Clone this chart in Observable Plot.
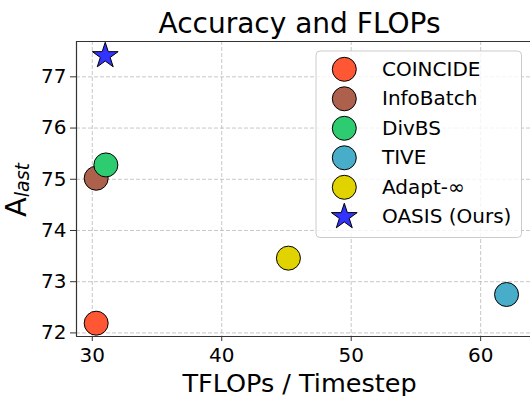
<!DOCTYPE html>
<html>
<head>
<meta charset="utf-8">
<script src="https://cdn.jsdelivr.net/npm/d3@7"></script>
<script src="https://cdn.jsdelivr.net/npm/@observablehq/plot@0.6"></script>
<style>
  html, body { margin: 0; padding: 0; background: #fff; }
  #chart { position: relative; width: 530px; height: 396px; }
</style>
</head>
<body>
<div id="chart"></div>
<script>
// ---- data ----
const methods = ["COINCIDE", "InfoBatch", "DivBS", "TIVE", "Adapt-∞", "OASIS (Ours)"];
const tflops  = [30.3, 30.3, 31.05, 62.0, 45.15, 31.0];
const accLast = [72.19, 75.02, 75.28, 72.75, 73.46, 77.41];
const colors  = ["#FF5733", "#AD614D", "#2ECC71", "#48ADC8", "#E1D300", "#3333FF"];
const symbols = ["circle", "circle", "circle", "circle", "circle", "star"];
const xTicks  = [30, 40, 50, 60];
const yTicks  = [72, 73, 74, 75, 76, 77];
const xDomain = [28.78, 63.85];
const yDomain = [71.93, 77.69];
const titleText = "Accuracy and FLOPs";
const xLabel = "TFLOPs / Timestep";

const rows = methods.map((m, i) => ({method: m, x: tflops[i], y: accLast[i], color: colors[i], symbol: symbols[i]}));
const circles = rows.filter(d => d.symbol === "circle");
const stars = rows.filter(d => d.symbol === "star");

const font = "DejaVu Sans, sans-serif";

const plot = Plot.plot({
  width: 530,
  height: 396,
  marginTop: 41,
  marginLeft: 76,
  marginRight: 0,
  marginBottom: 60,
  style: {fontFamily: font, fontSize: "20px", color: "#000", background: "#fff"},
  x: {domain: xDomain, label: null},
  y: {domain: yDomain, label: null},
  marks: [
    Plot.gridX(xTicks, {stroke: "#b0b0b0", strokeOpacity: 0.7, strokeDasharray: "4,2", strokeWidth: 1}),
    Plot.gridY(yTicks, {stroke: "#b0b0b0", strokeOpacity: 0.7, strokeDasharray: "4,2", strokeWidth: 1}),
    Plot.axisX(xTicks, {tickSize: 5, tickPadding: 6, fontSize: 20, label: null, stroke: "#333", color: "#000", tickFormat: d3.format("d")}),
    Plot.axisY(yTicks, {tickSize: 6, tickPadding: 4, fontSize: 20, label: null, stroke: "#333", color: "#000", tickFormat: d3.format("d")}),
    Plot.ruleX([xDomain[0]], {stroke: "#333", strokeWidth: 1.2}),
    Plot.ruleY(yDomain, {stroke: "#333", strokeWidth: 1.2}),
    Plot.dot(circles, {x: "x", y: "y", fill: "color", r: 12, stroke: "#000", strokeWidth: 1, symbol: "circle"}),
    Plot.dot(stars, {x: "x", y: "y", fill: "color", r: 8.1, stroke: "#000", strokeWidth: 1, symbol: "star"})
  ]
});

document.getElementById("chart").appendChild(plot);

// ---- titles, labels, legend ----
const svg = d3.select(plot);
const cx = 299.5;

svg.append("text")
  .attr("x", cx).attr("y", 32.7)
  .attr("text-anchor", "middle")
  .style("font-family", font).style("font-size", "28px").attr("fill", "#000")
  .text(titleText);

svg.append("text")
  .attr("x", cx).attr("y", 391.5)
  .attr("text-anchor", "middle")
  .style("font-family", font).style("font-size", "25.5px").attr("fill", "#000")
  .text(xLabel);

const yl = svg.append("text")
  .attr("transform", "translate(26,190) rotate(-90)")
  .attr("text-anchor", "middle")
  .style("font-family", font).attr("fill", "#000");
yl.append("tspan").style("font-size", "29px").text("A");
yl.append("tspan").style("font-size", "19px").style("font-style", "italic").attr("dy", 3).text("last");

const lg = svg.append("g");
lg.append("rect")
  .attr("x", 316).attr("y", 51).attr("width", 205.5).attr("height", 186.5)
  .attr("rx", 4).attr("fill", "#fff").attr("fill-opacity", 0.8)
  .attr("stroke", "#cccccc").attr("stroke-width", 1);
const starPath = d3.symbol(d3.symbolStar, Math.PI * 8.1 * 8.1)();
rows.forEach((d, i) => {
  const yy = 69.3 + i * 29.5;
  if (d.symbol === "star") {
    lg.append("path").attr("d", starPath).attr("transform", `translate(344.3,${yy})`)
      .attr("fill", d.color).attr("stroke", "#000").attr("stroke-width", 1);
  } else {
    lg.append("circle").attr("cx", 344.3).attr("cy", yy).attr("r", 12)
      .attr("fill", d.color).attr("stroke", "#000").attr("stroke-width", 1);
  }
  lg.append("text").attr("x", 382).attr("y", yy + 6.6)
    .attr("text-anchor", "start")
    .style("font-family", font).style("font-size", "20px").attr("fill", "#000")
    .text(d.method);
});
</script>
</body>
</html>
